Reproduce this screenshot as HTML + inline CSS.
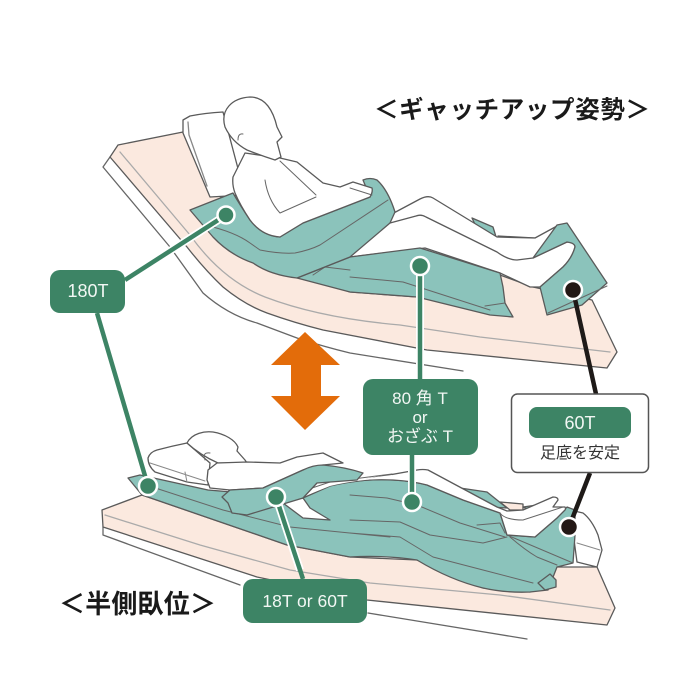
<!DOCTYPE html>
<html><head><meta charset="utf-8"><style>
html,body{margin:0;padding:0;background:#fff}
svg{display:block}
text{font-family:"Liberation Sans","Noto Sans CJK JP",sans-serif}
</style></head><body>
<svg width="700" height="700" viewBox="0 0 700 700" xmlns="http://www.w3.org/2000/svg">
<rect width="700" height="700" fill="#fff"/>
<g stroke="#5a5a5a" stroke-width="1.3" stroke-linejoin="round" stroke-linecap="round">
<!-- TOP mattress -->
<path fill="none" stroke="#666" d="M110 157L103 167L170 247Q190 275 203 293Q228 315 257 323L297 338Q325 347 350 353L463 371"/>
<path fill="#fbe9df" d="M118 145L183 132L240 230L300 275L350 292L417 297L500 275L533 287L592 300L617 352L607 368L427 350L323 330Q295 323 267 313Q245 305 223 287Q205 270 187 247L110 157Z"/>
<path fill="none" stroke="#aaa" d="M120 152L190 235Q222 280 265 297Q320 318 400 325L480 337L610 352"/>
<!-- top pillow -->
<path fill="#fff" d="M183 120L190 116Q205 113 223 112L245 195L210 197L183 133Z"/>
<path fill="none" stroke="#888" d="M188 122L189 135L207 186"/>
<!-- small green behind leg -->
<path fill="#8bc3bb" d="M472 218L493 227L497 240L480 235Z"/>
<path fill="#fbe9df" d="M498 236L535 238Q525 243 517 243Z"/>
<!-- legs -->
<path fill="#fff" d="M390 215L420 199Q428 195 433 198L497 237L535 238L557 226Q562 226 563 230L567 242Q575 243 575 247Q572 258 563 267L540 287L530 287L500 273L425 248L350 257Z"/>
<path fill="none" d="M390 223L416 216Q421 214 426 217L497 252Q508 260 517 260L533 258L567 242"/>
<!-- lower top cushion -->
<path fill="#8bc3bb" d="M350 257L420 248L500 273L503 287L505 303L513 317L490 315L417 297L350 292L297 278Z"/>
<path fill="none" stroke="#666" stroke-width="1" d="M350 277L403 282L490 310M485 306L505 303M313 275L325 267L350 270"/>
<!-- foot cushion -->
<path fill="#8bc3bb" d="M557 225L567 223L607 283L582 305L547 315L540 287L563 267Q572 258 575 247Q575 243 567 242L533 258Z"/>
<path fill="none" stroke="#666" stroke-width="1" d="M548 313L607 286"/>
<!-- 180T cushion top -->
<path fill="#8bc3bb" d="M190 210L233 193Q240 205 250 220Q262 236 280 237L303 223L370 197L363 180Q370 177 377 180Q388 190 395 212L390 223L350 257L297 278Q270 275 253 263Q230 255 213 237Z"/>
<path fill="none" stroke="#666" stroke-width="1" d="M205 225Q235 232 250 243L260 250Q280 254 295 253Q310 250 320 245L388 200"/>
<!-- body -->
<path fill="#fff" d="M245 153L233 177Q232 185 235 193Q240 205 250 220Q262 236 280 237L303 223L370 197Q373 192 372 188L353 182L340 187L323 183L297 162L280 158Z"/>
<path fill="none" stroke="#666" stroke-width="1" d="M265 180Q268 200 280 213L316 197M280 161L316 195M350 188L372 195"/>
<!-- head -->
<path fill="#fff" d="M225 127C220 110 232 98 250 97C265 97 273 110 277 127L282 137L277 142L281 157L275 160Q262 156 247 150Q232 142 225 127Z"/>
<path fill="none" stroke="#666" stroke-width="1" d="M238 140Q238 133 243 134"/>

<!-- BOTTOM mattress -->
<path fill="none" stroke="#666" d="M103 527L103 535L240 585M368 613L527 639"/>
<path fill="#fbe9df" d="M102 510L142 495L287 545L350 557L417 560L483 588L530 592L557 567L597 567L615 608L607 625L367 600L257 577L103 527Z"/>
<path fill="none" stroke="#aaa" d="M105 515L200 545L290 570L370 583L500 595L610 610"/>
<!-- foot pillow -->
<path fill="#fff" d="M570 510L583 513Q592 520 598 535L602 550L597 567L577 562Z"/>
<path fill="none" stroke="#888" stroke-width="1" d="M577 543L600 550"/>
<!-- big bottom cushion -->
<path fill="#8bc3bb" d="M128 478L140 475L208 490L303 498L330 486Q365 478 393 480Q412 481 427 485L463 500L500 513L507 535L535 537L557 518L567 507L575 510L575 535L573 563L557 567L548 590L530 592Q505 593 483 588Q450 580 417 560Q385 555 350 557L287 545L142 495Z"/>
<path fill="none" stroke="#666" stroke-width="1" d="M140 483L223 510L290 527L390 537M350 533L400 537L433 557L483 570L533 583M350 520L400 522L430 535L483 543L507 537M350 495L387 498L417 505L460 523L505 537M477 525L500 523L505 533M507 535L573 563M510 537Q525 550 537 557L557 565"/>
<path fill="#8bc3bb" d="M538 583L550 574L556 580L556 587L545 590Z"/>
<!-- bottom legs -->
<path fill="#8bc3bb" d="M460 488L487 492L507 508L490 507Z"/>
<path fill="#fbe9df" d="M500 502L523 504L523 510L510 510Z"/>
<path fill="#8bc3bb" d="M523 507L537 505L530 510Z"/>
<path fill="#fff" d="M350 482L417 470Q423 469 428 470L497 507L507 511L523 510L553 497Q558 497 558 500L553 507L565 507Q566 509 565 510L557 518L535 537L507 535L500 513L463 500L427 485Q412 481 393 480Q370 479 350 482Z"/>
<path fill="none" stroke="#666" stroke-width="1" d="M500 513Q505 520 523 520L563 507"/>
<path fill="#fff" stroke="none" d="M310 493L330 483L392 475L392 479Q365 478 330 486L310 494Z"/>
<path fill="none" stroke="#666" stroke-width="1" d="M312 488L330 482L392 474"/>
<path fill="#fff" d="M283 503L303 498L310 508L330 520L303 518Z"/>
<!-- bottom pillow and head -->
<path fill="#fff" d="M148 458Q150 452 157 450Q172 446 187 443L210 463L208 485L187 482L155 472Q148 466 148 458Z"/>
<path fill="none" stroke="#888" stroke-width="1" d="M150 463L205 481M185 472L187 482"/>
<path fill="#fff" d="M187 443C192 433 205 431 213 432C225 434 235 440 238 447L237 451L245 460L247 463L218 463Q200 455 187 443Z"/>
<path fill="none" stroke="#666" stroke-width="1" d="M205 460Q202 452 210 453"/>
<!-- bottom body + arm -->
<path fill="#fff" d="M208 470L217 463L247 462L280 463L297 457L323 453L343 463L323 465L303 470L263 488L230 490L210 488L207 480Z"/>
<!-- bottom top cushion -->
<path fill="#8bc3bb" d="M222 497L230 490L263 488L303 470Q313 465 323 465Q345 467 363 473L357 480L317 483L303 498L247 515L232 513L228 503Z"/>
</g>

<!-- Arrow -->
<path fill="#e36c0a" d="M305 332L340 365L321 365L321 396L340 396L305 430L271 396L291 396L291 365L271 365Z"/>

<!-- connectors green -->
<g stroke="#3d8465" stroke-width="4.500" fill="none">
<path stroke="#fff" stroke-width="8" d="M125 280L226 215"/>
<path d="M125 280L226 215"/>
<path d="M97 313L148 486" />
<path stroke="#fff" stroke-width="8" d="M420 266L420 370M412 455L412 502"/>
<path d="M420 266L420 379M412 455L412 502"/>
<path stroke="#fff" stroke-width="8" d="M276 497L300 570"/>
<path d="M276 497L303 579"/>
</g>
<g fill="#3d8465" stroke="#fff" stroke-width="2.500">
<circle cx="226" cy="215" r="8.500"/>
<circle cx="148" cy="486" r="9"/>
<circle cx="420" cy="266" r="9"/>
<circle cx="412" cy="502" r="9"/>
<circle cx="276" cy="497" r="9"/>
</g>
<!-- black connectors -->
<g stroke="#1e1a18" stroke-width="4.500" fill="none">
<path d="M573 290L596 394M590 473L569 527"/>
</g>
<g fill="#231815" stroke="#fff" stroke-width="2.500">
<circle cx="573" cy="290" r="9"/>
<circle cx="569" cy="527" r="9"/>
</g>

<!-- label boxes -->
<rect x="50" y="270" width="75" height="43" rx="10" fill="#3d8465"/>
<rect x="363" y="379" width="115" height="76" rx="10" fill="#3d8465"/>
<rect x="243" y="579" width="124" height="44" rx="10" fill="#3d8465"/>
<rect x="511.500" y="394" width="137" height="78.500" rx="6" fill="#fff" stroke="#555" stroke-width="1.500"/>
<rect x="529" y="407" width="102" height="31" rx="8" fill="#3d8465"/>

<g fill="#f2f7f4" font-size="17" text-anchor="middle">
<text x="88" y="297" font-size="18">180T</text>
<text x="420" y="404">80 角 T</text>
<text x="420" y="423">or</text>
<text x="420" y="442">おざぶ T</text>
<text x="305" y="607" font-size="17.500">18T or 60T</text>
<text x="580" y="429" font-size="18">60T</text>
</g>
<text x="580" y="458" font-size="16" text-anchor="middle" fill="#333">足底を安定</text>
<text x="374" y="118" font-size="24.500" fill="#1a1a1a" font-weight="700" textLength="276" lengthAdjust="spacing">＜ギャッチアップ姿勢＞</text>
<text x="59" y="613" font-size="26" fill="#1a1a1a" font-weight="700" textLength="157" lengthAdjust="spacing">＜半側臥位＞</text>
</svg>
</body></html>
